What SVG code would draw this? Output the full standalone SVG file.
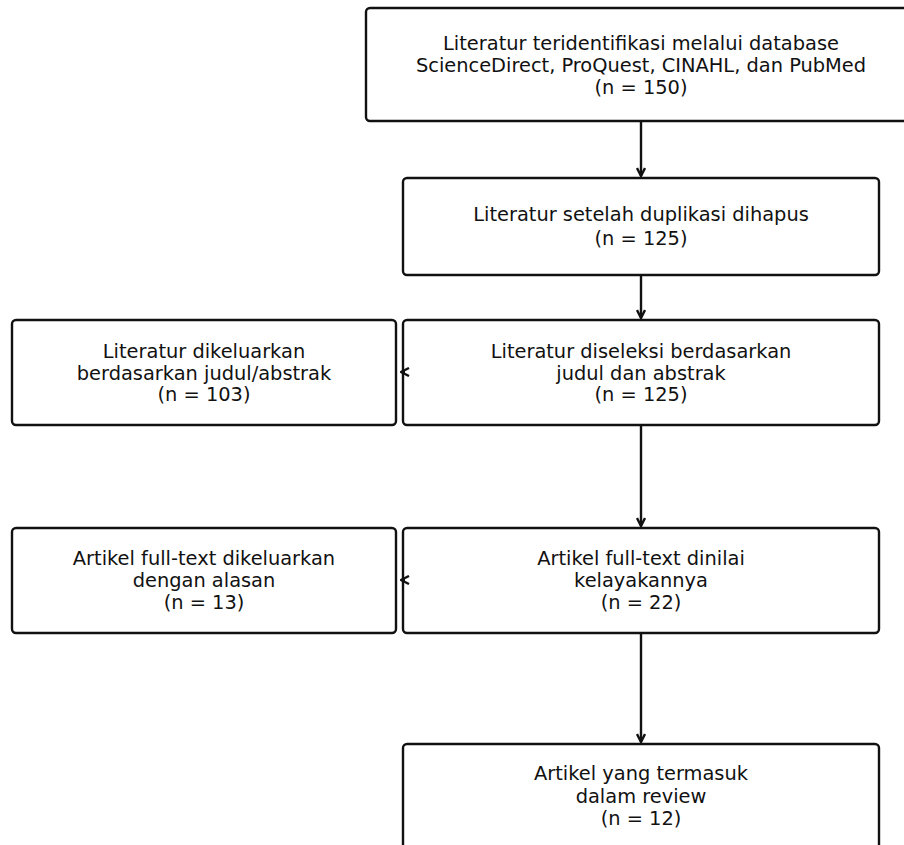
<svg xmlns="http://www.w3.org/2000/svg" width="904" height="845" viewBox="0 0 904 845">
<defs>
<style>
.box{fill:#fff;stroke:#111;stroke-width:2.4}
text{font-family:"DejaVu Sans",sans-serif;font-size:19.4px;fill:#111;text-anchor:middle}
.c{stroke:#111;stroke-width:2.4;fill:none}
</style>
<marker id="ah" viewBox="0 0 10 10" refX="9" refY="5" markerWidth="10" markerHeight="10" markerUnits="userSpaceOnUse" orient="auto">
<path d="M1,1 L9,5 L1,9" fill="none" stroke="#111" stroke-width="2.4"/>
</marker>
</defs>
<rect width="904" height="845" fill="#fff"/>
<g id="n1">
<rect class="box" x="366" y="8" width="550" height="113" rx="4"/>
<text x="641" y="50">Literatur teridentifikasi melalui database</text>
<text x="641" y="72">ScienceDirect, ProQuest, CINAHL, dan PubMed</text>
<text x="641" y="94">(n = 150)</text>
</g>
<g id="n2">
<rect class="box" x="403" y="178" width="476" height="97" rx="4"/>
<text x="641" y="221">Literatur setelah duplikasi dihapus</text>
<text x="641" y="245">(n = 125)</text>
</g>
<g id="n3">
<rect class="box" x="403" y="320" width="476" height="105" rx="4"/>
<text x="641" y="358">Literatur diseleksi berdasarkan</text>
<text x="641" y="380">judul dan abstrak</text>
<text x="641" y="401">(n = 125)</text>
</g>
<g id="n3x">
<rect class="box" x="12" y="320" width="384" height="105" rx="4"/>
<text x="204" y="358">Literatur dikeluarkan</text>
<text x="204" y="380">berdasarkan judul/abstrak</text>
<text x="204" y="401">(n = 103)</text>
</g>
<g id="n4">
<rect class="box" x="403" y="528" width="476" height="105" rx="4"/>
<text x="641" y="565">Artikel full-text dinilai</text>
<text x="641" y="587">kelayakannya</text>
<text x="641" y="609">(n = 22)</text>
</g>
<g id="n4x">
<rect class="box" x="12" y="528" width="384" height="105" rx="4"/>
<text x="204" y="565">Artikel full-text dikeluarkan</text>
<text x="204" y="587">dengan alasan</text>
<text x="204" y="609">(n = 13)</text>
</g>
<g id="n5">
<rect class="box" x="403" y="744" width="476" height="113" rx="4"/>
<text x="641" y="780">Artikel yang termasuk</text>
<text x="641" y="803">dalam review</text>
<text x="641" y="825">(n = 12)</text>
</g>
<g id="connectors">
<line class="c" x1="641" y1="122" x2="641" y2="176" marker-end="url(#ah)"/>
<line class="c" x1="641" y1="276" x2="641" y2="318" marker-end="url(#ah)"/>
<line class="c" x1="641" y1="426" x2="641" y2="526" marker-end="url(#ah)"/>
<line class="c" x1="641" y1="634" x2="641" y2="742" marker-end="url(#ah)"/>
<line class="c" x1="405" y1="372" x2="401" y2="372" marker-end="url(#ah)"/>
<line class="c" x1="405" y1="580" x2="401" y2="580" marker-end="url(#ah)"/>
</g>
</svg>
